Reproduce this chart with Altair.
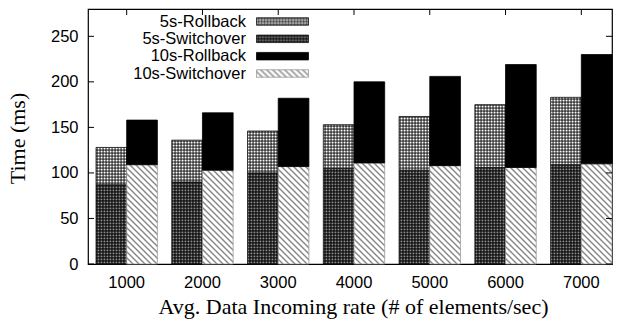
import altair as alt
import pandas as pd
import jinja2

# ---------------- data ----------------
rates = ["1000", "2000", "3000", "4000", "5000", "6000", "7000"]
switch_5s = [87, 90, 100, 105, 103, 106, 109]
total_5s = [128, 136, 146, 153, 162, 175, 183]
switch_10s = [109, 103, 107, 111, 108, 106, 110]
total_10s = [158, 166, 182, 200, 206, 219, 230]
series = ["5s-Rollback", "5s-Switchover", "10s-Rollback", "10s-Switchover"]
durations = ["5s", "10s"]
y_ticks = [0, 50, 100, 150, 200, 250]

rows = []
for i, r in enumerate(rates):
    rows.append(dict(rate=r, dur="5s", series="5s-Switchover", value=switch_5s[i], order=0))
    rows.append(dict(rate=r, dur="5s", series="5s-Rollback", value=total_5s[i] - switch_5s[i], order=1))
    rows.append(dict(rate=r, dur="10s", series="10s-Switchover", value=switch_10s[i], order=0))
    rows.append(dict(rate=r, dur="10s", series="10s-Rollback", value=total_10s[i] - switch_10s[i], order=1))
df = pd.DataFrame(rows)

# ---------------- styles ----------------
fills = ["url(#p5r) #888", "url(#p5s) #444", "#000000", "url(#p10s) #ddd"]
strokes = ["#111111", "#111111", "#000000", "#999999"]
fill_enc = alt.Fill("series:N", scale=alt.Scale(domain=series, range=fills), legend=None)
stroke_enc = alt.Stroke("series:N", scale=alt.Scale(domain=series, range=strokes), legend=None)

W, H = 524, 255
x_scale = alt.Scale(domain=rates, range=[8, 524], paddingInner=0.19, paddingOuter=0)
y_scale = alt.Scale(domain=[0, 280], nice=False, zero=True)

x_axis = alt.Axis(title="Avg. Data Incoming rate (# of elements/sec)",
                  titleFont="Liberation Serif", titleFontSize=22, titleFontWeight="normal",
                  titleColor="black", titleBaseline="alphabetic", titleY=49, titleX=265,
                  labelFont="Liberation Sans", labelFontSize=16.5, labelColor="black",
                  labelAngle=0, labelBaseline="alphabetic", labelPadding=23,
                  ticks=False, tickSize=0, domain=False, grid=False)

bars = alt.Chart(df).mark_bar(strokeWidth=0.8).encode(
    x=alt.X("rate:N", sort=rates, scale=x_scale, axis=x_axis),
    xOffset=alt.XOffset("dur:N", sort=durations,
                        scale=alt.Scale(domain=durations, paddingInner=0, paddingOuter=0)),
    y=alt.Y("value:Q", stack="zero", scale=y_scale,
            axis=alt.Axis(title="Time (ms)", values=y_ticks,
                          titleFont="Liberation Serif", titleFontSize=22, titleFontWeight="normal",
                          titleColor="black", titleAngle=270, titleAlign="center",
                          titleBaseline="middle", titleX=-71, titleY=129,
                          labelFont="Liberation Sans", labelFontSize=16.5, labelColor="black",
                          labelPadding=10, ticks=False, tickSize=0, domain=False, grid=False)),
    fill=fill_enc,
    stroke=stroke_enc,
    order=alt.Order("order:Q"),
)

ytick_df = pd.DataFrame({"t": y_ticks})
ytick_left = alt.Chart(ytick_df).mark_rule(color="black", strokeWidth=1).encode(
    y=alt.Y("t:Q", scale=y_scale, axis=None), x=alt.value(0), x2=alt.value(6))
ytick_right = alt.Chart(ytick_df).mark_rule(color="black", strokeWidth=1).encode(
    y=alt.Y("t:Q", scale=y_scale, axis=None), x=alt.value(W - 6), x2=alt.value(W))

xtick_df = pd.DataFrame({"rate": rates})
xtick_top = alt.Chart(xtick_df).mark_rule(color="black", strokeWidth=1).encode(
    x=alt.X("rate:N", sort=rates, scale=x_scale, axis=x_axis), y=alt.value(0), y2=alt.value(6))

leg_df = pd.DataFrame({"series": series})
leg_y = alt.Y("series:N", sort=series,
              scale=alt.Scale(domain=series, range=[12.5, 64.5], padding=0), axis=None)
leg_text = alt.Chart(leg_df).mark_text(
    align="right", baseline="middle", font="Liberation Sans", fontSize=16.5, color="black"
).encode(x=alt.value(158), y=leg_y, text="series:N")
leg_swatch = alt.Chart(leg_df).mark_point(
    shape="M-1,-0.144H1V0.144H-1Z", size=2704, filled=True, opacity=1, strokeWidth=0.8
).encode(x=alt.value(194.5), y=leg_y, fill=fill_enc, stroke=stroke_enc)

chart = alt.layer(
    bars, ytick_left, ytick_right, xtick_top, leg_text, leg_swatch
).resolve_scale(y="independent").properties(
    width=W, height=H,
    padding={"left": 88, "top": 9, "right": 6, "bottom": 59},
    autosize=alt.AutoSizeParams(type="none"),
    background="white",
).configure_view(stroke="black", strokeWidth=1.2)

PATTERNS = """
<svg width="0" height="0" style="position:absolute;left:0;top:0" aria-hidden="true">
  <defs>
    <pattern id="p5r" width="3" height="3" patternUnits="userSpaceOnUse">
      <rect width="3" height="3" fill="#000"/>
      <rect x="0.5" y="0.5" width="2.1" height="2.1" fill="#fff"/>
    </pattern>
    <pattern id="p5s" width="3" height="3" patternUnits="userSpaceOnUse">
      <rect width="3" height="3" fill="#000"/>
      <rect x="0.5" y="0.5" width="1.9" height="1.9" fill="#8f8f8f"/>
    </pattern>
    <pattern id="p10s" width="6" height="6" patternUnits="userSpaceOnUse">
      <rect width="6" height="6" fill="#fff"/>
      <path d="M0,0L6,6M-1,5L1,7M5,-1L7,1" stroke="#8a8a8a" stroke-width="1.5"/>
    </pattern>
  </defs>
</svg>
"""

TEMPLATE = jinja2.Template("""<!DOCTYPE html>
<html>
<head>
  <meta charset="utf-8">
  <style>
    body { margin: 0; }
    #{{ output_div }}.vega-embed { width: 100%; display: flex; }
  </style>
  <script type="text/javascript" src="{{ base_url }}/vega@{{ vega_version }}"></script>
  <script type="text/javascript" src="{{ base_url }}/vega-lite@{{ vegalite_version }}"></script>
  <script type="text/javascript" src="{{ base_url }}/vega-embed@{{ vegaembed_version }}"></script>
</head>
<body>
""" + PATTERNS + """
  <div id="{{ output_div }}"></div>
  <script>
    (function(vegaEmbed) {
      var spec = {{ spec }};
      var embedOpt = {{ embed_options }};
      function showError(el, error){
          el.innerHTML = ('<div style="color:red;"><p>JavaScript Error: ' + error.message + '</p></div>');
          throw error;
      }
      const el = document.getElementById('{{ output_div }}');
      vegaEmbed("#{{ output_div }}", spec, embedOpt).catch(error => showError(el, error));
    })(vegaEmbed);
  </script>
</body>
</html>
""")

chart.save("out.html", embed_options={"renderer": "svg", "actions": False}, template=TEMPLATE)
